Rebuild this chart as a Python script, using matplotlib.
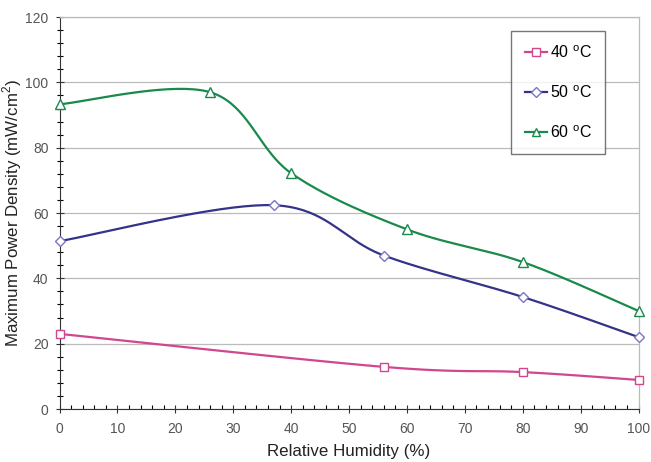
import numpy as np
import matplotlib
matplotlib.use("Agg")
import matplotlib.pyplot as plt
from matplotlib.ticker import MultipleLocator

plt.rcParams['font.family'] = ['Liberation Sans', 'DejaVu Sans']
plt.rcParams['mathtext.fontset'] = 'custom'
plt.rcParams['mathtext.rm'] = 'Liberation Sans'

rh_40 = [0, 56, 80, 100]
pd_40 = [23, 12.9, 11.3, 8.9]

rh_50 = [0, 37, 56, 80, 100]
pd_50 = [51.4, 62.4, 47, 34.3, 22]

rh_60 = [0, 26, 40, 60, 80, 100]
pd_60 = [93.3, 97, 72.2, 55, 45, 30]

labels = ['40 $^{\\mathrm{o}}$C', '50 $^{\\mathrm{o}}$C', '60 $^{\\mathrm{o}}$C']


def smooth(xs, ys, n=40):
    # catmull-rom style bezier, like a spreadsheet "smoothed line"
    p = np.column_stack([xs, ys]).astype(float)
    ext = np.vstack([p[0], p, p[-1]])
    out = []
    for i in range(len(p) - 1):
        p0, p1 = ext[i + 1], ext[i + 2]
        c1 = p0 + (ext[i + 2] - ext[i]) / 6
        c2 = p1 - (ext[i + 3] - ext[i + 1]) / 6
        t = np.linspace(0, 1, n)[:, None]
        seg = ((1 - t) ** 3 * p0 + 3 * (1 - t) ** 2 * t * c1
               + 3 * (1 - t) * t ** 2 * c2 + t ** 3 * p1)
        out.append(seg if i == 0 else seg[1:])
    s = np.vstack(out)
    return s[:, 0], s[:, 1]


fig = plt.figure(figsize=(6.51, 4.62), dpi=100)
ax = fig.add_axes([0.0915, 0.1147, 0.8895, 0.8483])

series = [
    (rh_40, pd_40, '#d0478e', '#d0478e', 's', 6),
    (rh_50, pd_50, '#33338a', '#7777c4', 'D', 5.5),
    (rh_60, pd_60, '#1a8a4c', '#1a8a4c', '^', 6.5),
]
for (xs, ys, lc, mc, mk, ms), lab in zip(series, labels):
    sx, sy = smooth(xs, ys)
    ax.plot(sx, sy, color=lc, lw=1.6, zorder=3, clip_on=False)
    ax.plot(xs, ys, ls='none', marker=mk, ms=ms, mfc='white', mec=mc,
            mew=1.0, zorder=4, clip_on=False)
    ax.plot([], [], color=lc, lw=1.6, marker=mk, ms=ms - 0.5, mfc='white',
            mec=mc, mew=1.0, label=lab)

ax.set_xlim(0, 100)
ax.set_ylim(0, 120)
ax.xaxis.set_major_locator(MultipleLocator(10))
ax.xaxis.set_minor_locator(MultipleLocator(2))
ax.yaxis.set_major_locator(MultipleLocator(20))
ax.yaxis.set_minor_locator(MultipleLocator(4))
ax.tick_params(axis='both', which='major', direction='inout', length=6,
               width=0.8, labelsize=10, colors='#333333',
               labelcolor='#555555')
ax.tick_params(axis='x', which='minor', direction='in', length=3, width=0.8)
ax.tick_params(axis='y', which='minor', direction='inout', length=4, width=0.8)
ax.tick_params(axis='x', pad=6)
ax.tick_params(axis='y', pad=5)
for s in ['top', 'right']:
    ax.spines[s].set_color('#bbbbbb')
    ax.spines[s].set_linewidth(0.9)
for s in ['left', 'bottom']:
    ax.spines[s].set_color('#333333')
ax.grid(axis='y', which='major', color='#bbbbbb', lw=0.9)
ax.set_axisbelow(True)

ax.set_xlabel('Relative Humidity (%)', fontsize=12.2, labelpad=6,
              color='#222222')
ax.set_ylabel('Maximum Power Density (mW/cm$^2$)', fontsize=12.2,
              labelpad=1, color='#222222')

leg = ax.legend(loc='upper left', bbox_to_anchor=(0.78, 0.965),
                fontsize=11.5, frameon=True, fancybox=False,
                edgecolor='#555555', labelspacing=1.45, handlelength=1.4,
                handletextpad=0.15, borderpad=0.85, borderaxespad=0)
leg.get_frame().set_linewidth(1.0)

fig.savefig('out.png', dpi=100)
